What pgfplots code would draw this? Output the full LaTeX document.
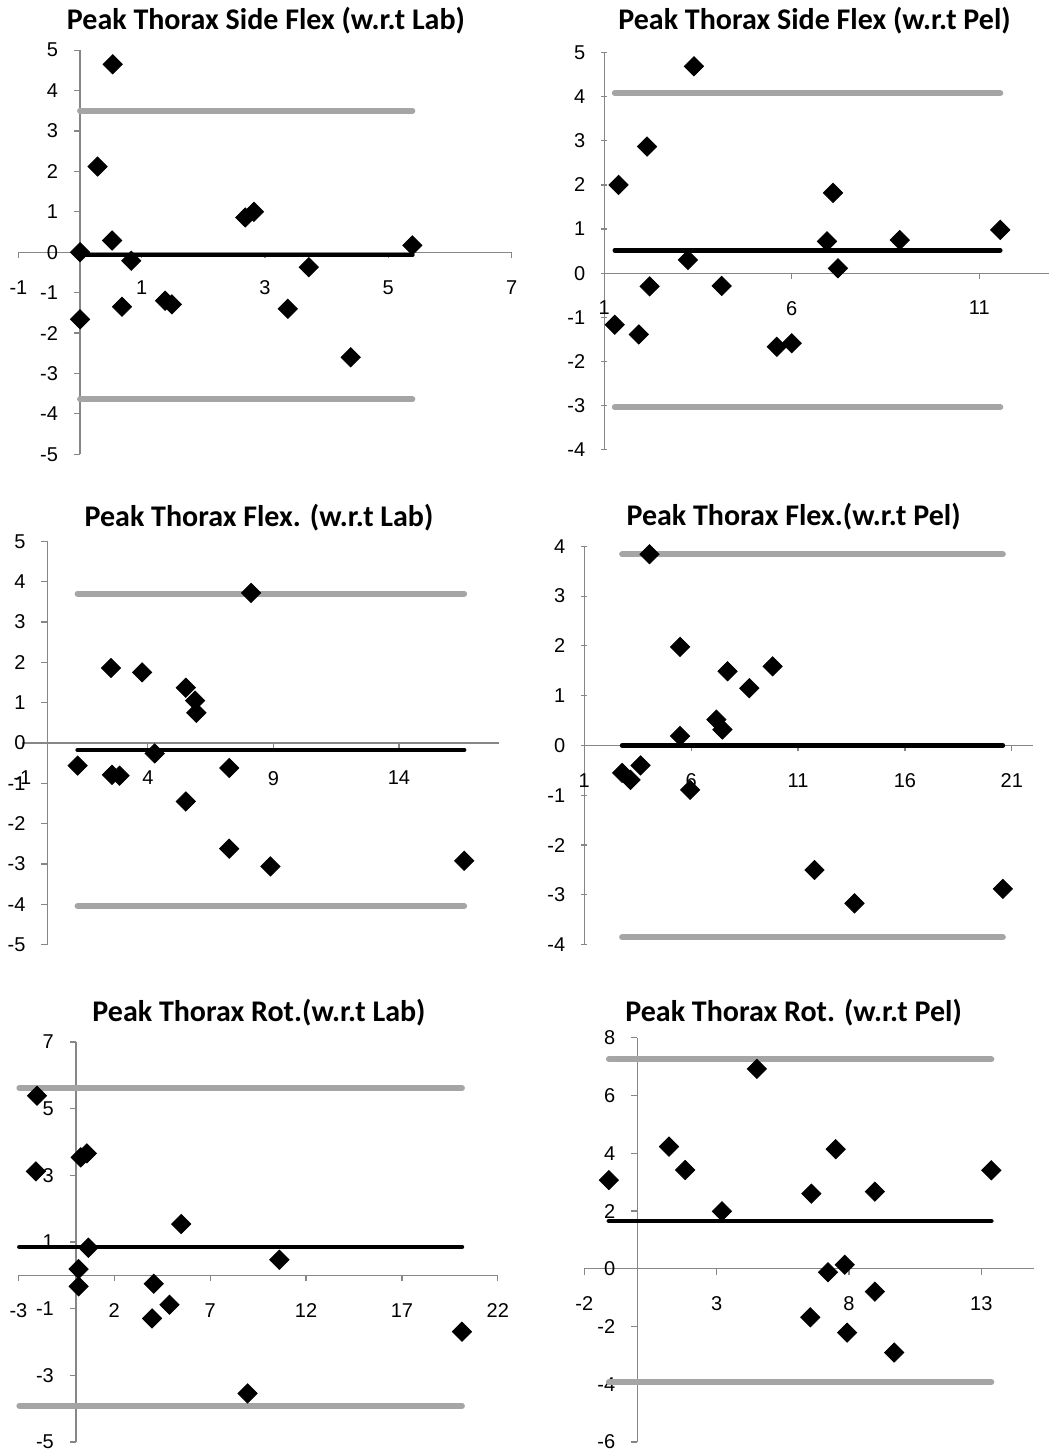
\documentclass[border=0pt]{standalone}
\usepackage{pgfplots}
\pgfplotsset{compat=1.18}
\usepackage{fontspec}
\setmainfont{Liberation Sans}
\newfontfamily\titlefont{Carlito}
\definecolor{axgrey}{HTML}{868686}
\definecolor{limgrey}{HTML}{A5A5A5}

\pgfplotsset{
  ba/.style={
    scale only axis, anchor=south west,
    axis x line=middle, axis y line=middle,
    axis line style={draw=axgrey, line width=0.6pt, -},
    every tick/.style={draw=axgrey, line width=0.6pt},
    tick align=outside, major tick length=3pt,
    hide obscured x ticks=false, hide obscured y ticks=false,
    enlargelimits=false,
    ticklabel style={font=\fontsize{10}{10}\selectfont},
    /pgf/number format/assume math mode=true,
    xticklabel style={anchor=north, yshift=-7.5pt},
    yticklabel style={anchor=east, xshift=-4.5pt},
    clip=false,
  },
  lefty/.style={axis y line=left, y axis line style={-}},
  pts/.style={only marks, mark=square*, mark size=3.4pt,
    mark options={rotate=45, fill=black, draw=black}},
  meanline/.style={black, line width=2.3pt, line cap=round, mark=none},
  limline/.style={limgrey, line width=3pt, line cap=round, mark=none},
}
\tikzset{ttl/.style={anchor=base, font=\titlefont\bfseries\fontsize{15}{15}\selectfont}}

\begin{document}
\begin{tikzpicture}
\useasboundingbox (0,0) rectangle (524.5pt,726pt);

% Side flexion, lab frame
\begin{axis}[ba, at={(9.2pt,498.85pt)}, width=246.6pt, height=202.05pt,
  xmin=-1, xmax=7, ymin=-5, ymax=5,
  xtick={-1,1,3,5,7}, ytick={-5,-4,...,5}]
\addplot[pts] coordinates {
 (0.53,4.65) (0.285,2.12) (0.52,0.29) (0,0.0) (0.83,-0.21) (0,-1.66)
 (0.68,-1.35) (1.38,-1.20) (1.49,-1.29) (2.68,0.86) (2.82,1.00)
 (3.37,-1.40) (3.71,-0.37) (4.39,-2.60) (5.39,0.17)};
\addplot[meanline] coordinates {(0,-0.066) (5.39,-0.066)};
\addplot[limline] coordinates {(0,3.50) (5.39,3.50)};
\addplot[limline] coordinates {(0,-3.64) (5.39,-3.64)};
\end{axis}

% Side flexion, pelvis frame
\begin{axis}[ba, lefty, at={(302.15pt,501.2pt)}, width=222.35pt, height=198.5pt,
  xmin=1, xmax=12.86, ymin=-4, ymax=5,
  xtick={1,6,11}, ytick={-4,-3,...,5}]
\addplot[pts] coordinates {
 (1.38,2.00) (1.28,-1.17) (1.92,-1.39) (2.14,2.87) (2.21,-0.30)
 (3.23,0.30) (3.39,4.69) (4.13,-0.29) (5.60,-1.67) (6.00,-1.59)
 (6.94,0.72) (7.10,1.82) (7.23,0.11) (8.88,0.75) (11.56,0.98)};
\addplot[meanline] coordinates {(1.28,0.52) (11.56,0.52)};
\addplot[limline] coordinates {(1.28,4.08) (11.56,4.08)};
\addplot[limline] coordinates {(1.28,-3.04) (11.56,-3.04)};
\end{axis}

% Flexion, lab frame
\begin{axis}[ba, at={(11.2pt,253.65pt)}, width=238.45pt, height=201.7pt,
  xmin=-1, xmax=18, ymin=-5, ymax=5,
  xtick={-1,4,9,14}, ytick={-5,-4,...,5}]
\addplot[pts] coordinates {
 (1.20,-0.56) (2.53,1.86) (2.57,-0.79) (2.87,-0.81) (3.77,1.75)
 (4.27,-0.26) (5.51,1.37) (5.88,1.05) (5.93,0.75) (5.51,-1.45)
 (7.24,-0.62) (7.24,-2.62) (8.11,3.72) (8.88,-3.06) (16.60,-2.92)};
\addplot[meanline] coordinates {(1.2,-0.173) (16.6,-0.173)};
\addplot[limline] coordinates {(1.2,3.70) (16.6,3.70)};
\addplot[limline] coordinates {(1.2,-4.04) (16.6,-4.04)};
\end{axis}

% Flexion, pelvis frame
\begin{axis}[ba, lefty, at={(292.15pt,253.65pt)}, width=224.45pt, height=199.2pt,
  xmin=1, xmax=22, ymin=-4, ymax=4,
  xtick={1,6,11,16,21}, ytick={-4,-3,...,4}]
\addplot[pts] coordinates {
 (2.77,-0.55) (3.16,-0.69) (3.63,-0.40) (4.05,3.84) (5.48,1.98)
 (5.48,0.19) (5.95,-0.89) (7.18,0.52) (7.46,0.32) (7.70,1.49)
 (8.72,1.15) (9.81,1.59) (11.77,-2.50) (13.64,-3.17) (20.58,-2.88)};
\addplot[meanline] coordinates {(2.77,0.0) (20.58,0.0)};
\addplot[limline] coordinates {(2.77,3.84) (20.58,3.84)};
\addplot[limline] coordinates {(2.77,-3.85) (20.58,-3.85)};
\end{axis}

% Rotation, lab frame
\begin{axis}[ba, at={(9.2pt,4.95pt)}, width=239.7pt, height=200.05pt,
  xmin=-3, xmax=22, ymin=-5, ymax=7,
  xtick={-3,2,7,12,17,22}, ytick={-5,-3,...,7}]
\addplot[pts] coordinates {
 (-2.03,5.39) (-2.09,3.12) (0.25,3.54) (0.57,3.66) (0.65,0.83)
 (0.14,0.19) (0.14,-0.33) (4.06,-0.25) (3.97,-1.29) (4.88,-0.88)
 (5.49,1.54) (8.95,-3.54) (10.61,0.47) (20.13,-1.69)};
\addplot[meanline] coordinates {(-2.95,0.855) (20.13,0.855)};
\addplot[limline] coordinates {(-2.95,5.62) (20.13,5.62)};
\addplot[limline] coordinates {(-2.95,-3.91) (20.13,-3.91)};
\end{axis}

% Rotation, pelvis frame
\begin{axis}[ba, at={(292.15pt,4.95pt)}, width=224.95pt, height=202.2pt,
  xmin=-2, xmax=15, ymin=-6, ymax=8,
  xtick={-2,3,8,13}, ytick={-6,-4,...,8}]
\addplot[pts] coordinates {
 (-1.07,3.07) (1.20,4.23) (1.81,3.42) (3.20,1.99) (4.52,6.92)
 (6.58,2.60) (6.54,-1.68) (7.21,-0.12) (7.50,4.14) (7.84,0.14)
 (7.93,-2.21) (8.98,2.67) (8.98,-0.79) (9.71,-2.90) (13.38,3.41)};
\addplot[meanline] coordinates {(-1.07,1.66) (13.38,1.66)};
\addplot[limline] coordinates {(-1.07,7.25) (13.38,7.25)};
\addplot[limline] coordinates {(-1.07,-3.92) (13.38,-3.92)};
\end{axis}

\node[ttl] at (133pt,711.25pt) {Peak Thorax Side Flex (w.r.t Lab)};
\node[ttl] at (407.3pt,711.25pt) {Peak Thorax Side Flex (w.r.t Pel)};
\node[ttl] at (129.5pt,462.55pt) {Peak Thorax Flex. (w.r.t Lab)};
\node[ttl] at (396.8pt,463.4pt) {Peak Thorax Flex.(w.r.t Pel)};
\node[ttl] at (129.5pt,215pt) {Peak Thorax Rot.(w.r.t Lab)};
\node[ttl] at (396.8pt,215pt) {Peak Thorax Rot. (w.r.t Pel)};
\end{tikzpicture}
\end{document}
